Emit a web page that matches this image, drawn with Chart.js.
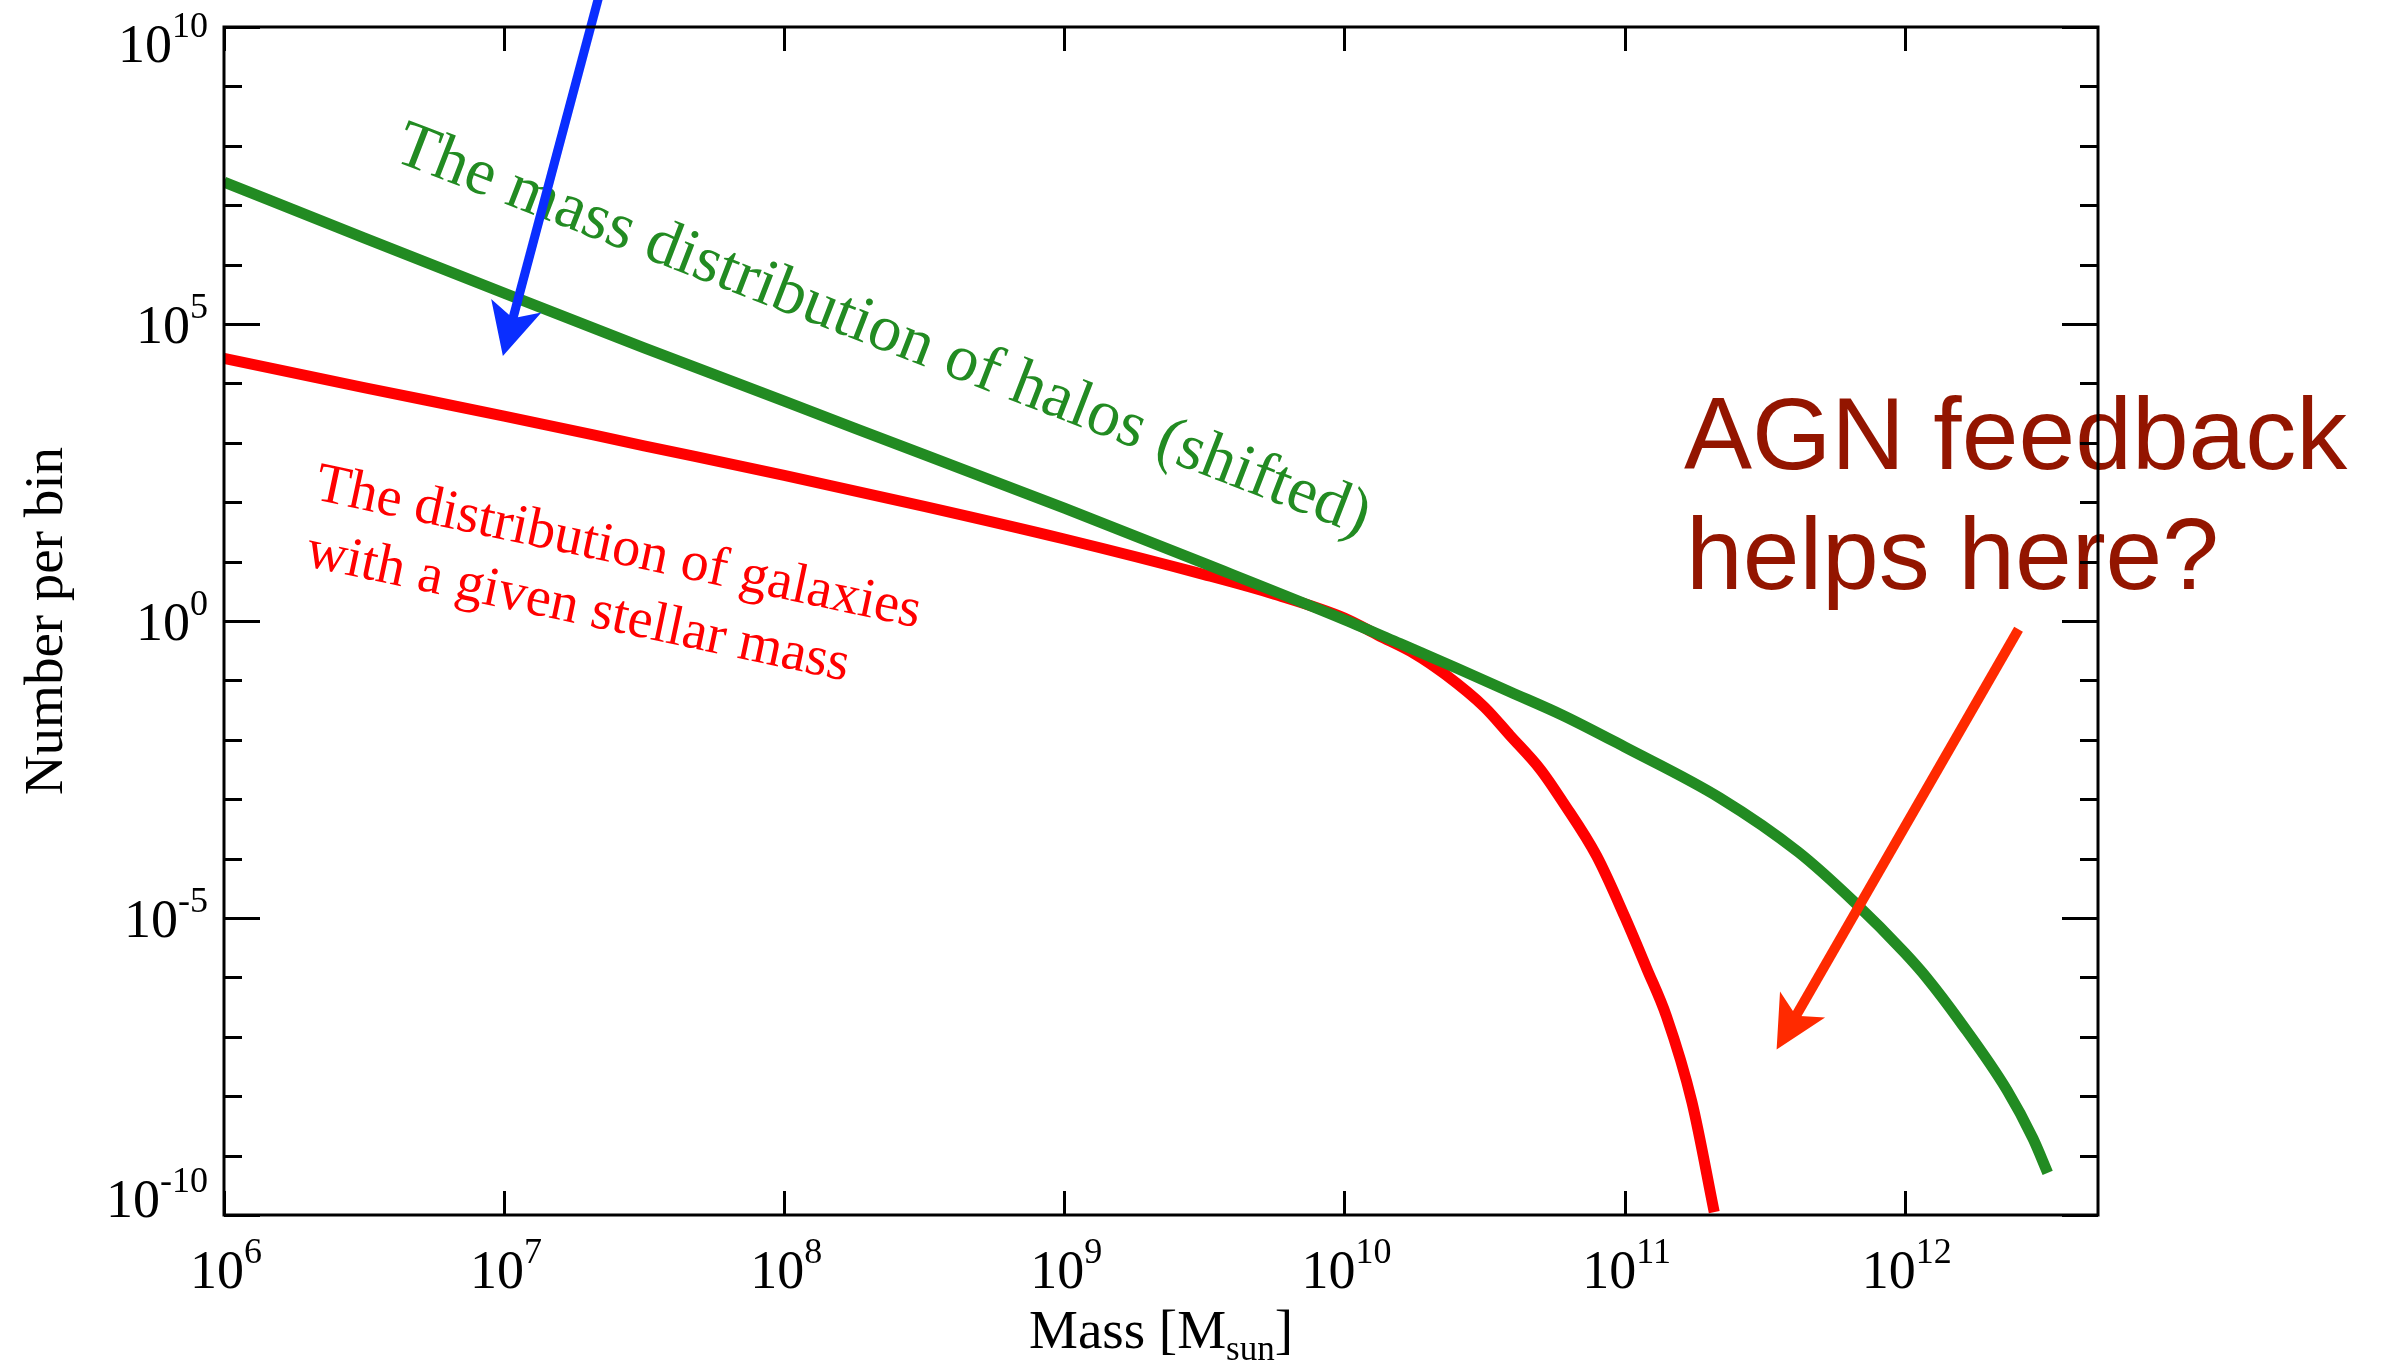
<!DOCTYPE html>
<html>
<head>
<meta charset="utf-8">
<title>Number per bin vs mass</title>
<script src="https://cdn.jsdelivr.net/npm/chart.js@4.4.1/dist/chart.umd.min.js"></script>
<style>
  html, body { margin: 0; padding: 0; background: #fff; }
  canvas { display: block; }
</style>
</head>
<body>
<canvas id="massChart" width="2381" height="1362"></canvas>
<script>
// halo mass function (shifted)
const massHalo = [1e6, 3.16e6, 1e7, 3.16e7, 1e8, 3.16e8, 1e9, 3.16e9, 1e10, 1.58e10, 2.51e10, 3.89e10, 6.03e10, 1e11, 2.19e11, 4.17e11, 6.61e11, 1e12, 1.2e12, 1.58e12, 2.32e12, 2.87e12, 3.24e12];
const haloCounts = [2.45e7, 2.82e6, 3.31e5, 3.98e4, 5.01e3, 631, 79.4, 9.33, 1.05, 0.417, 0.162, 0.0646, 0.0257, 7.6e-3, 1.05e-3, 1.29e-4, 1.86e-5, 2.6e-6, 9.8e-7, 1.78e-7, 1.26e-8, 1.95e-9, 5.13e-10];

// galaxy stellar mass function
const massGal = [1e6, 3.16e6, 1e7, 3.16e7, 1e8, 3.16e8, 1e9, 3.16e9, 5.62e9, 1e10, 1.32e10, 1.78e10, 2.29e10, 3.16e10, 3.89e10, 5.01e10, 6.03e10, 7.94e10, 1e11, 1.2e11, 1.41e11, 1.74e11, 2.09e11];
const galaxyCounts = [2.63e4, 8.51e3, 2.82e3, 891, 282, 85.1, 24.0, 6.03, 2.82, 1.12, 0.575, 0.282, 0.126, 0.0355, 0.0120, 3.16e-3, 8.91e-4, 1.12e-4, 1.07e-5, 1.41e-6, 2.24e-7, 7.94e-9, 1.12e-10];

// tick labels (powers of ten)
const xTickExps = [6, 7, 8, 9, 10, 11, 12];
const yTickExps = [-10, -5, 0, 5, 10];
const yMinorExps = [-9, -8, -7, -6, -4, -3, -2, -1, 1, 2, 3, 4, 6, 7, 8, 9];

const xLabel = "Mass [M";
const xLabelSub = "sun";
const yLabel = "Number per bin";

const haloText = "The mass distribution of halos (shifted)";
const galaxyText = ["The distribution of galaxies", "with a given stellar mass"];
const agnText = ["AGN feedback", "helps here?"];

// arrows: [start mass, start count, tip mass, tip count]
const blueArrow = [2.21e7, 4.2e10, 9.9e6, 2.89e4];
const redArrow = [2.55e12, 0.723, 3.49e11, 6.1e-8];

const SERIF = "'Liberation Serif', 'Times New Roman', serif";
const SANS = "'Liberation Sans', Arial, sans-serif";

function drawArrow(ctx, x0, y0, x1, y1, color, width) {
  const len = Math.hypot(x1 - x0, y1 - y0);
  const ux = (x1 - x0) / len, uy = (y1 - y0) / len;
  const nx = -uy, ny = ux;
  const headLen = 52, headHalf = 26, notch = 39;
  ctx.save();
  ctx.strokeStyle = color;
  ctx.fillStyle = color;
  ctx.lineWidth = width;
  ctx.lineCap = "butt";
  ctx.beginPath();
  ctx.moveTo(x0, y0);
  ctx.lineTo(x1 - ux * (notch - 3), y1 - uy * (notch - 3));
  ctx.stroke();
  const bx = x1 - ux * headLen, by = y1 - uy * headLen;
  ctx.beginPath();
  ctx.moveTo(x1, y1);
  ctx.lineTo(bx + nx * headHalf, by + ny * headHalf);
  ctx.lineTo(x1 - ux * notch, y1 - uy * notch);
  ctx.lineTo(bx - nx * headHalf, by - ny * headHalf);
  ctx.closePath();
  ctx.fill();
  ctx.restore();
}

// draws "10" with a raised exponent, anchored by alignment
function powerLabel(ctx, exp, x, baseline, align) {
  const base = "10", sup = String(exp);
  ctx.font = "54px " + SERIF;
  const wb = ctx.measureText(base).width;
  ctx.font = "36px " + SERIF;
  const ws = ctx.measureText(sup).width;
  const total = wb + ws;
  let left = x;
  if (align === "center") left = x - total / 2;
  if (align === "right") left = x - total;
  ctx.textAlign = "left";
  ctx.textBaseline = "alphabetic";
  ctx.font = "54px " + SERIF;
  ctx.fillText(base, left, baseline);
  ctx.font = "36px " + SERIF;
  ctx.fillText(sup, left + wb, baseline - 25);
}

const overlay = {
  id: "overlay",
  afterDraw(chart) {
    const ctx = chart.ctx;
    const xs = chart.scales.x, ys = chart.scales.y;
    const area = chart.chartArea;
    const px = (v) => xs.getPixelForValue(v);
    const py = (v) => ys.getPixelForValue(v);

    ctx.save();
    ctx.textAlign = "left";
    ctx.textBaseline = "alphabetic";

    // halo annotation
    ctx.save();
    ctx.translate(px(3.98e6), py(5.77e7));
    ctx.rotate(21.2 * Math.PI / 180);
    ctx.fillStyle = "#228B22";
    ctx.font = "66px " + SERIF;
    ctx.fillText(haloText, 0, 0);
    ctx.restore();

    // galaxy annotation
    ctx.save();
    ctx.translate(px(2.08e6), py(113));
    ctx.rotate(12 * Math.PI / 180);
    ctx.fillStyle = "#FF0000";
    ctx.font = "56px " + SERIF;
    ctx.fillText(galaxyText[0], 0, 0);
    ctx.fillText(galaxyText[1], 5, 67);
    ctx.restore();

    // AGN annotation
    ctx.fillStyle = "#931500";
    ctx.font = "102px " + SANS;
    ctx.fillText(agnText[0], px(1.63e11), py(362));
    ctx.fillText(agnText[1], px(1.63e11) + 2, py(362) + 120);

    // arrows
    drawArrow(ctx, px(blueArrow[0]), py(blueArrow[1]), px(blueArrow[2]), py(blueArrow[3]), "#0A2EFF", 9);
    drawArrow(ctx, px(redArrow[0]), py(redArrow[1]), px(redArrow[2]), py(redArrow[3]), "#FF2A00", 10);

    // frame
    ctx.strokeStyle = "#000";
    ctx.lineWidth = 3;
    ctx.strokeRect(area.left, area.top, area.right - area.left, area.bottom - area.top);

    // ticks on all four sides, pointing inward
    ctx.beginPath();
    xTickExps.forEach((e) => {
      const x = Math.round(px(Math.pow(10, e))) + 0.5;
      ctx.moveTo(x, area.bottom); ctx.lineTo(x, area.bottom - 24);
      ctx.moveTo(x, area.top); ctx.lineTo(x, area.top + 24);
    });
    yTickExps.forEach((e) => {
      const y = Math.round(py(Math.pow(10, e))) + 0.5;
      ctx.moveTo(area.left, y); ctx.lineTo(area.left + 36, y);
      ctx.moveTo(area.right, y); ctx.lineTo(area.right - 36, y);
    });
    yMinorExps.forEach((e) => {
      const y = Math.round(py(Math.pow(10, e))) + 0.5;
      ctx.moveTo(area.left, y); ctx.lineTo(area.left + 18, y);
      ctx.moveTo(area.right, y); ctx.lineTo(area.right - 18, y);
    });
    ctx.stroke();

    // tick labels
    ctx.fillStyle = "#000";
    xTickExps.forEach((e) => {
      powerLabel(ctx, e, px(Math.pow(10, e)) + 2, area.bottom + 73, "center");
    });
    yTickExps.forEach((e) => {
      let base = py(Math.pow(10, e)) + 19;
      base = Math.max(base, area.top + 35);
      base = Math.min(base, area.bottom + 2);
      powerLabel(ctx, e, area.left - 16, base, "right");
    });

    // x axis title with subscript
    ctx.font = "55px " + SERIF;
    const w1 = ctx.measureText(xLabel).width;
    const wClose = ctx.measureText("]").width;
    ctx.font = "35px " + SERIF;
    const w2 = ctx.measureText(xLabelSub).width;
    const cx = (area.left + area.right) / 2;
    const lx = cx - (w1 + w2 + wClose) / 2;
    const by = area.bottom + 133;
    ctx.font = "55px " + SERIF;
    ctx.fillText(xLabel, lx, by);
    ctx.font = "35px " + SERIF;
    ctx.fillText(xLabelSub, lx + w1, by + 12);
    ctx.font = "55px " + SERIF;
    ctx.fillText("]", lx + w1 + w2, by);

    // y axis title
    ctx.save();
    ctx.translate(62, (area.top + area.bottom) / 2);
    ctx.rotate(-Math.PI / 2);
    ctx.textAlign = "center";
    ctx.font = "55px " + SERIF;
    ctx.fillText(yLabel, 0, 0);
    ctx.restore();

    ctx.restore();
  }
};

const toPoints = (xsArr, ysArr) => xsArr.map((m, i) => ({ x: m, y: ysArr[i] }));

new Chart(document.getElementById("massChart"), {
  type: "line",
  data: {
    datasets: [
      {
        label: "Halos (shifted)",
        data: toPoints(massHalo, haloCounts),
        borderColor: "#228B22",
        borderWidth: 11,
        pointRadius: 0,
        cubicInterpolationMode: "monotone",
        borderJoinStyle: "round",
        borderCapStyle: "butt",
        fill: false,
      },
      {
        label: "Galaxies",
        data: toPoints(massGal, galaxyCounts),
        borderColor: "#FF0000",
        borderWidth: 11,
        pointRadius: 0,
        cubicInterpolationMode: "monotone",
        borderJoinStyle: "round",
        borderCapStyle: "butt",
        fill: false,
      },
    ],
  },
  options: {
    responsive: false,
    devicePixelRatio: 1,
    animation: false,
    events: [],
    layout: { padding: { left: 224, right: 283, top: 27, bottom: 147 } },
    plugins: {
      legend: { display: false },
      tooltip: { enabled: false },
    },
    scales: {
      x: { type: "logarithmic", min: 1e6, max: 4.9e12, display: false },
      y: { type: "logarithmic", min: 1e-10, max: 1e10, display: false },
    },
  },
  plugins: [overlay],
});
</script>
</body>
</html>
